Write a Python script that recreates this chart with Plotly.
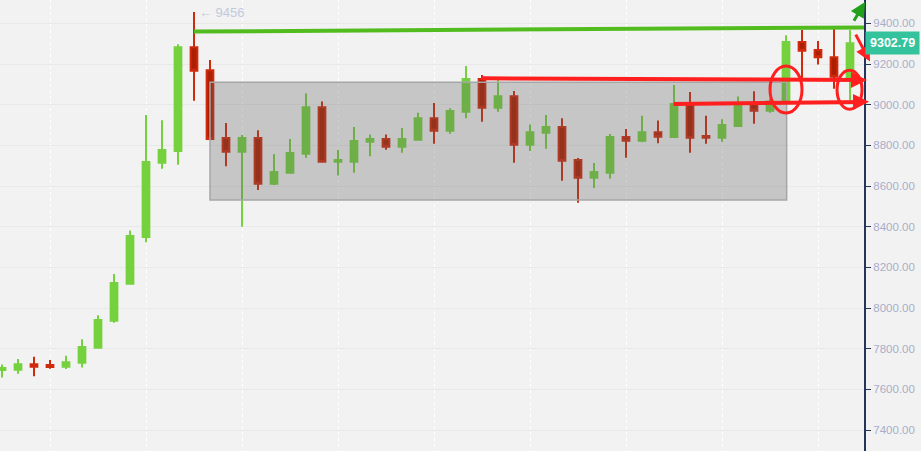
import plotly.graph_objects as go

# ---- data ----
candle_idx = list(range(54))
opens = [7695, 7696, 7724, 7720, 7711, 7731, 7805, 7937, 8119, 8350,
         8714, 8773, 9283, 9170, 8836, 8769, 8836, 8611, 8665, 8759,
         8988, 8719, 8719, 8818, 8831, 8793, 8828, 8934, 8872, 8965,
         9126, 8985, 9042, 8803, 8862, 8890, 8728, 8641, 8665, 8841,
         8823, 8865, 8841, 9003, 8846, 8837, 8895, 9003, 8970, 9019,
         9308, 9269, 9234, 9130]
highs = [7723, 7749, 7760, 7744, 7765, 7847, 7964, 8167, 8382, 8949,
         8924, 9297, 9456, 9220, 8910, 8851, 8875, 8757, 8831, 9056,
         9016, 8777, 8890, 8854, 8854, 8885, 8960, 9008, 8983, 9190,
         9146, 9136, 9067, 8903, 8950, 8933, 8738, 8713, 8856, 8880,
         8946, 8923, 9097, 9062, 8946, 8929, 9041, 9066, 9030, 9342,
         9367, 9313, 9387, 9367]
lows = [7659, 7677, 7665, 7701, 7700, 7708, 7800, 7928, 8115, 8324,
        8685, 8705, 9019, 8830, 8697, 8400, 8580, 8605, 8660, 8739,
        8714, 8652, 8665, 8747, 8778, 8764, 8826, 8808, 8857, 8933,
        8916, 8965, 8714, 8773, 8783, 8626, 8518, 8591, 8636, 8739,
        8816, 8811, 8838, 8764, 8808, 8818, 8890, 8906, 8960, 9010,
        9131, 9198, 9078, 9020]
closes = [7705, 7724, 7711, 7710, 7734, 7808, 7941, 8123, 8354, 8718,
          8777, 9283, 9167, 8832, 8769, 8836, 8611, 8669, 8762, 8988,
          8719, 8728, 8821, 8831, 8793, 8831, 8934, 8872, 8969, 9126,
          8985, 9042, 8803, 8865, 8890, 8724, 8641, 8669, 8841, 8823,
          8865, 8842, 9003, 8837, 8837, 8900, 9003, 8970, 9016, 9308,
          9265, 9233, 9137, 9302.79]

y_ticks = [7400, 7600, 7800, 8000, 8200, 8400, 8600, 8800, 9000, 9200, 9400]
last_price = 9302.79
peak_label = "← 9456"
peak_value = 9456

# annotation geometry (data units)
range_box = dict(x0=13, x1=49.04, y0=8531, y1=9110)
resistance = dict(x0=12, y0=9360, x1=53.875, y1=9380)
red_arrow_1 = dict(ax=29.875, ay=9130, x=54.06, y=9121)
red_arrow_2 = dict(ax=41.875, ay=9003, x=54.19, y=9014)
red_diag = dict(ax=53.31, ay=9352, x=54.25, y=9212)
green_up = dict(ax=53.19, ay=9406, x=53.94, y=9505)
ellipse_1 = dict(x0=48.0, x1=50.0, y0=8959, y1=9190)
ellipse_2 = dict(x0=52.19, x1=53.75, y0=8978, y1=9170)

GREEN = "#76d13e"
RED_FILL = "#ad1f02"
RED_LINE = "#cf2a0c"
ARROW_RED = "#ff1f1f"

fig = go.Figure(go.Candlestick(
    x=candle_idx, open=opens, high=highs, low=lows, close=closes,
    increasing=dict(fillcolor=GREEN, line=dict(color=GREEN, width=2)),
    decreasing=dict(fillcolor=RED_FILL, line=dict(color=RED_LINE, width=2)),
    whiskerwidth=0, hoverinfo="skip", showlegend=False,
))

fig.update_layout(
    width=921, height=451,
    margin=dict(l=0, r=57, t=0, b=0),
    plot_bgcolor="#f2f2f2", paper_bgcolor="#f2f2f2",
    boxgap=0.4,
    showlegend=False,
    xaxis=dict(range=[-0.125, 53.875], showticklabels=False, ticks="",
               showgrid=True, gridcolor="#ffffff", griddash="3px,3px", gridwidth=1,
               tick0=3, dtick=6, zeroline=False, showline=False,
               rangeslider=dict(visible=False)),
    yaxis=dict(side="right", range=[7297, 9515], tickvals=y_ticks,
               tickformat=".2f", showline=True, linecolor="#25355a", linewidth=2,
               ticks="outside", ticklen=5, tickcolor="#25355a", tickwidth=1,
               tickfont=dict(color="#a8aeca", size=11.5, family="Arial"),
               showgrid=True, gridcolor="#e9e9e9", zeroline=False),
)

fig.add_shape(type="rect", xref="x", yref="y", **range_box,
              fillcolor="rgba(95,95,95,0.3)", line=dict(color="#a6a6a6", width=1.5))
fig.add_shape(type="line", xref="x", yref="y", **resistance,
              line=dict(color="#52bc1f", width=4))
for e in (ellipse_1, ellipse_2):
    fig.add_shape(type="circle", xref="x", yref="y", **e,
                  line=dict(color=ARROW_RED, width=3))

for a in (red_arrow_1, red_arrow_2):
    fig.add_annotation(xref="x", yref="y", axref="x", ayref="y", text="",
                       showarrow=True, arrowhead=2, arrowsize=0.8, arrowwidth=4,
                       arrowcolor=ARROW_RED, standoff=0, startstandoff=0, **a)
fig.add_annotation(xref="x", yref="y", axref="x", ayref="y", text="",
                   showarrow=True, arrowhead=2, arrowsize=1, arrowwidth=3,
                   arrowcolor=ARROW_RED, standoff=0, **red_diag)
fig.add_annotation(xref="x", yref="y", axref="x", ayref="y", text="",
                   showarrow=True, arrowhead=2, arrowsize=1, arrowwidth=3,
                   arrowcolor="#22a01b", standoff=0, **green_up)

fig.add_annotation(xref="x", yref="y", x=12.19, y=peak_value, text=peak_label,
                   xanchor="left", yanchor="middle", showarrow=False,
                   font=dict(color="#c3c9de", size=13, family="Arial"))
fig.add_annotation(xref="paper", yref="y", x=1, y=last_price,
                   text="<b>%.2f</b>" % last_price, xanchor="left", yanchor="middle",
                   xshift=1, showarrow=False, bgcolor="#34c39c", borderpad=4,
                   font=dict(color="white", size=12.5, family="Arial"))

fig.write_html("out.html", config={"displayModeBar": False},
               post_script="document.body.style.margin='0';document.body.style.overflow='hidden';")
